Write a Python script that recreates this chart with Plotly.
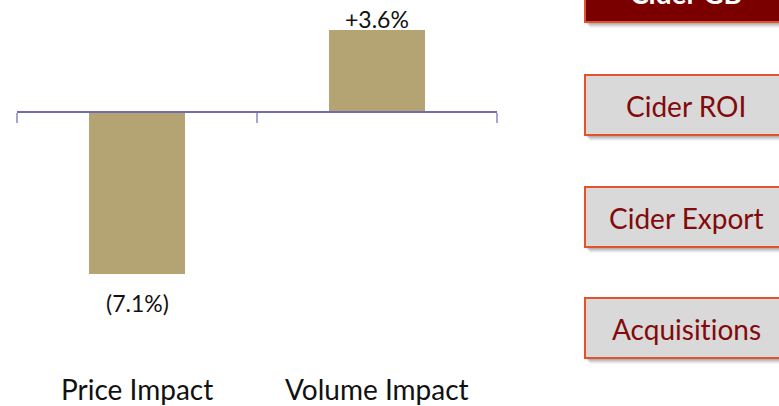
import plotly.graph_objects as go

# Data
categories = ["Price Impact", "Volume Impact"]
impact_pct = [-7.1, 3.6]
nav_buttons = ["Cider GB", "Cider ROI", "Cider Export", "Acquisitions"]
active_button = "Cider GB"

W, H = 779, 406
BAR_COLOR = "#B4A474"
AXIS_COLOR = "#6E6EAE"
FONT = "Lato"


def fmt(v):
    return f"+{v:.1f}%" if v >= 0 else f"({abs(v):.1f}%)"


def no_lig(s):
    # keep "ti" as two separate glyphs instead of Lato's ligature
    return s.replace("ti", "t\u200ci")


def px_x(p):
    return p / W


def px_y(p):
    return 1 - p / H


fig = go.Figure()
x_pos = list(range(len(categories)))
fig.add_trace(go.Bar(
    x=x_pos, y=impact_pct, width=0.4,
    marker=dict(color=BAR_COLOR, line=dict(width=0)),
    hoverinfo="skip", showlegend=False,
))

# value labels just beyond the bar ends
annotations = []
for xi, v in zip(x_pos, impact_pct):
    annotations.append(dict(
        x=xi, y=v, xref="x", yref="y", text=fmt(v), showarrow=False,
        yanchor="middle",
        yshift=11 if v >= 0 else -29,
        font=dict(family=FONT, size=23, color="#111111"),
    ))
# category names along the bottom
for xi, c in zip(x_pos, categories):
    annotations.append(dict(
        x=xi, y=px_y(389), xref="x", yref="paper",
        text=c, showarrow=False,
        yanchor="middle", font=dict(family=FONT, size=28, color="#111111"),
    ))

# navigation buttons on the right
shapes = []
btn_tops = [-38, 75, 187, 298]
btn_h = 60
for name, top in zip(nav_buttons, btn_tops):
    active = name == active_button
    x0, x1 = 585, 800
    y0, y1 = top, top + btn_h
    # soft drop shadow
    for k, a in [(6, 0.04), (5, 0.06), (4, 0.07), (3, 0.08), (2, 0.09)]:
        shapes.append(dict(
            type="rect", xref="paper", yref="paper", layer="below",
            x0=px_x(x0 + k - 1), x1=px_x(x1 + k), y0=px_y(y1 + k), y1=px_y(y0 + k),
            line=dict(width=0), fillcolor=f"rgba(0,0,0,{a})",
        ))
    shapes.append(dict(
        type="rect", xref="paper", yref="paper",
        x0=px_x(x0), x1=px_x(x1), y0=px_y(y1), y1=px_y(y0),
        line=dict(color="#E2532C", width=2),
        fillcolor="#7A0000" if active else "#D9D9D9",
    ))
    label = no_lig(name)
    annotations.append(dict(
        x=px_x(686), y=px_y(top + btn_h / 2 + 1), xref="paper", yref="paper",
        text=f"<b>{label}</b>" if active else label, showarrow=False,
        yanchor="middle", xanchor="center",
        font=dict(family=FONT, size=28, color="#FFFFFF" if active else "#820A0A"),
    ))

# y scale: zero line sits 112 px from the top, 22.8 px per percentage point
ppu = 22.8
y_top = 112 / ppu
y_bot = -(H - 112) / ppu

fig.update_layout(
    width=W, height=H, autosize=False,
    margin=dict(l=0, r=0, t=0, b=0, pad=0),
    paper_bgcolor="white", plot_bgcolor="white",
    bargap=0,
    xaxis=dict(
        domain=[px_x(17), px_x(497)], range=[-0.5, 1.5],
        anchor="free", position=px_y(112),
        showline=True, linecolor=AXIS_COLOR, linewidth=1.5,
        ticks="outside", ticklen=10, tickcolor="#A6A6D2", tickwidth=1.5,
        tickvals=[-0.5, 0.5, 1.5], showticklabels=False,
        showgrid=False, zeroline=False, fixedrange=True,
    ),
    yaxis=dict(
        domain=[0, 1], range=[y_bot, y_top], visible=False,
        showgrid=False, zeroline=False, fixedrange=True,
    ),
    shapes=shapes,
    annotations=annotations,
)

fig.write_html("out.html")
